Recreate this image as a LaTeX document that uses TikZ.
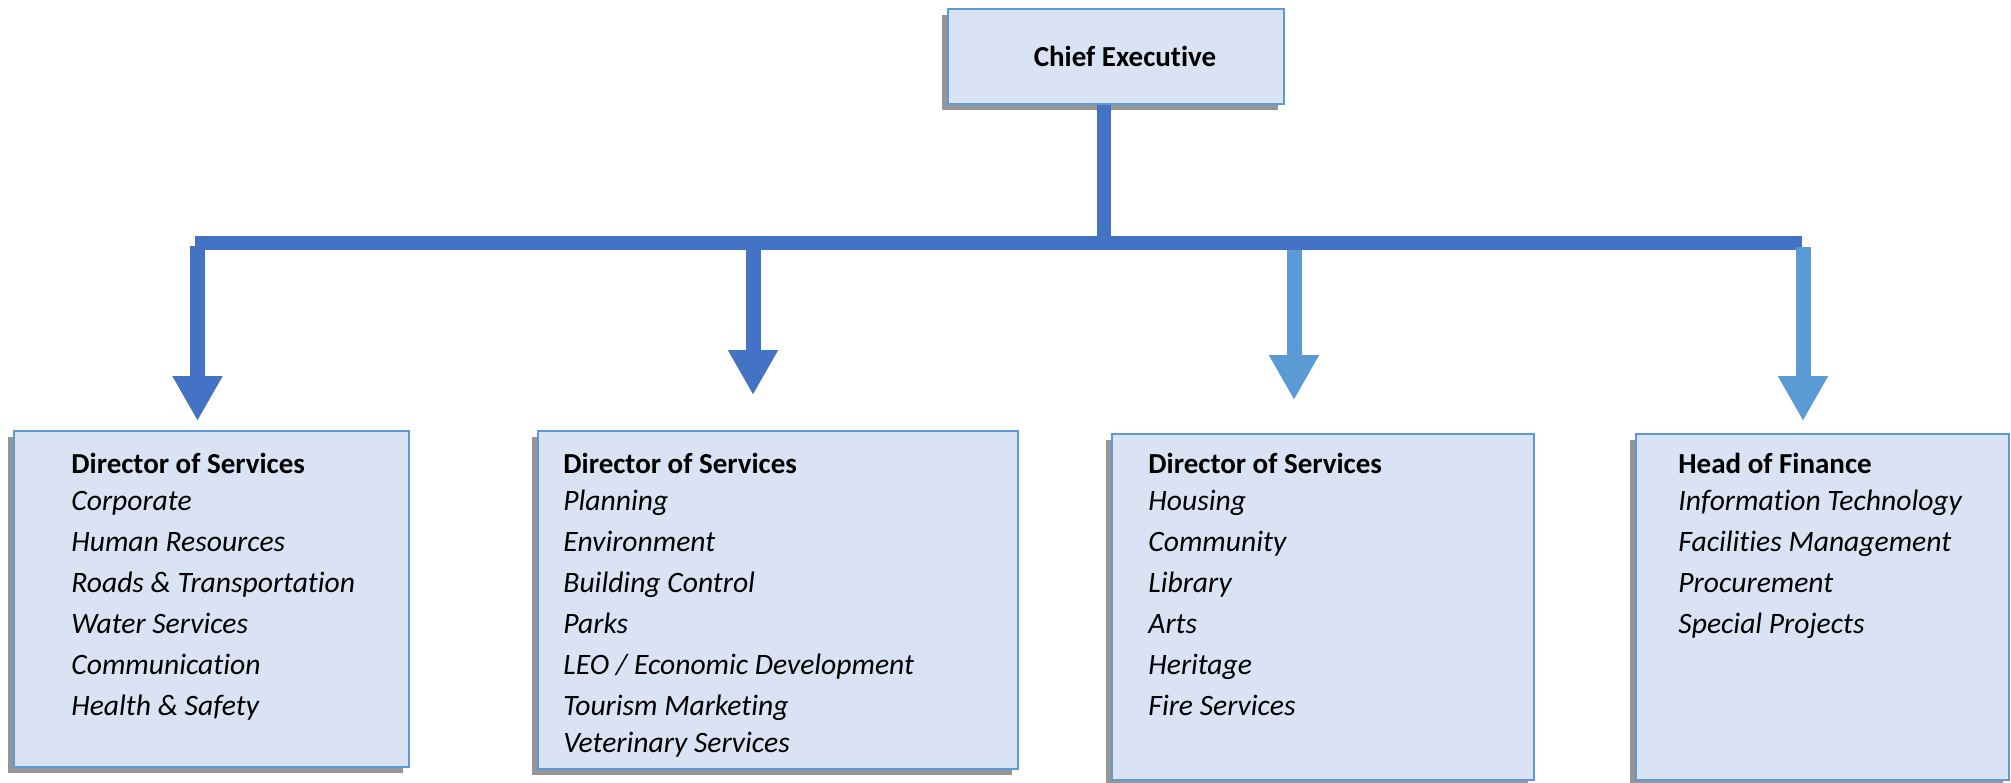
\documentclass[tikz,border=0pt]{standalone}
\usepackage{fontspec}
\setmainfont[Ligatures={NoCommon,NoRare,NoContextual},RawFeature=-calt,RawFeature=-dlig]{Carlito}
\usepackage{tikz}
\usetikzlibrary{arrows.meta,shadows}

\definecolor{darkblue}{HTML}{4472C4}
\definecolor{lightblue}{HTML}{5B9BD5}
\definecolor{boxfill}{HTML}{DAE3F3}
\definecolor{shadowgray}{HTML}{969696}

\begin{document}
\begin{tikzpicture}[x=0.5pt,y=-0.5pt,
  box/.style={draw=lightblue,line width=1.2pt,fill=boxfill,inner sep=0pt,anchor=north west,
    general shadow={fill=shadowgray,shadow xshift=-3pt,shadow yshift=-3pt}},
  head/.style={anchor=base west,inner sep=0pt,font=\fontsize{14.5}{17}\selectfont\bfseries},
  item/.style={anchor=base west,inner sep=0pt,font=\fontsize{14.8}{17}\selectfont\itshape},
  bar/.style={darkblue,line width=7pt},
  darkarrow/.style={darkblue,line width=7.5pt,-{Triangle[width=23.5pt,length=22.5pt]}},
  lightarrow/.style={lightblue,line width=7.5pt,-{Triangle[width=23.5pt,length=22.5pt]}}]
\useasboundingbox (0,0) rectangle (2011,782);

% boxes
\node[box,minimum width=168pt,minimum height=47.5pt] (ceo) at (947,8) {};
\node[box,minimum width=197.5pt,minimum height=168pt] (b1) at (13,430) {};
\node[box,minimum width=240pt,minimum height=169pt] (b2) at (537,430) {};
\node[box,minimum width=211pt,minimum height=173pt] (b3) at (1111,433) {};
\node[box,minimum width=186.5pt,minimum height=173pt] (b4) at (1635,433) {};

\node[head,anchor=base] (ceotxt) at (1125,66) {Chief Executive};

% connectors
\coordinate (j) at (1104,242.5);
\coordinate (l) at (195,242.5);
\coordinate (r) at (1802,242.5);
\draw[bar] (ceo.south -| j) -- (j);
\draw[bar] (l) -- (r);

\coordinate (s1) at (197.5,246);
\coordinate (t1) at (197.5,421);
\coordinate (s2) at (753,246);
\coordinate (t2) at (753,395);
\coordinate (s3) at (1294,250);
\coordinate (t3) at (1294,400);
\coordinate (s4) at (1803,247);
\coordinate (t4) at (1803,421);
\draw[darkarrow] (s1) -- (t1);
\draw[darkarrow] (s2) -- (t2);
\draw[lightarrow] (s3) -- (t3);
\draw[lightarrow] (s4) -- (t4);

% texts
\node[head] (h1) at (71,473) {Director of Services};
\foreach \t [count=\i] in {Corporate,Human Resources,Roads \& Transportation,Water Services,Communication,Health \& Safety}
  \node[item] (b1-\i) at (71,{469+41*\i}) {\t};

\node[head] (h2) at (563,473) {Director of Services};
\foreach \t [count=\i] in {Planning,Environment,Building Control,Parks,LEO / Economic Development,Tourism Marketing}
  \node[item] (b2-\i) at (563,{469+41*\i}) {\t};
\node[item] (b2-7) at (563,752) {Veterinary Services};

\node[head] (h3) at (1148,473) {Director of Services};
\foreach \t [count=\i] in {Housing,Community,Library,Arts,Heritage,Fire Services}
  \node[item] (b3-\i) at (1148,{469+41*\i}) {\t};

\node[head] (h4) at (1678,473) {Head of Finance};
\foreach \t [count=\i] in {Information Technology,Facilities Management,Procurement,Special Projects}
  \node[item] (b4-\i) at (1678,{469+41*\i}) {\t};

\end{tikzpicture}
\end{document}
